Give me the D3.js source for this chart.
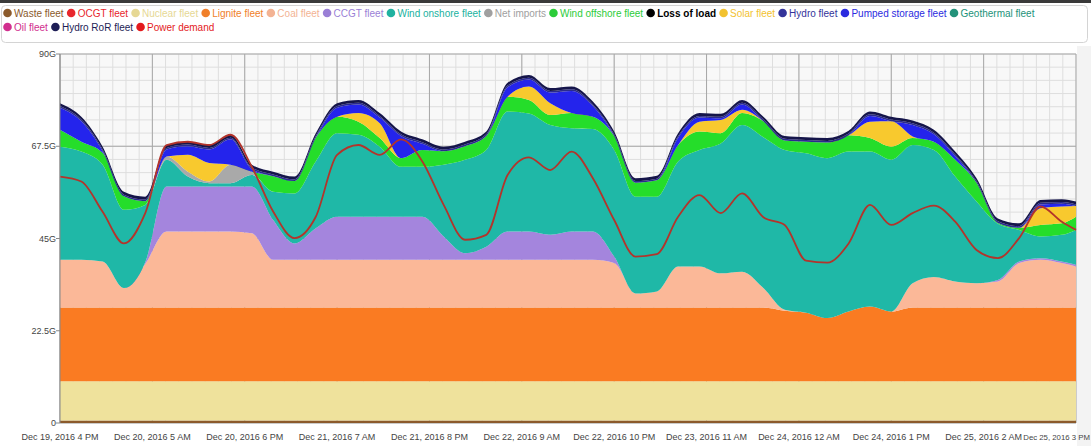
<!DOCTYPE html>
<html>
<head>
<meta charset="utf-8">
<script src="https://cdn.jsdelivr.net/npm/d3@7"></script>
<style>
  body { margin: 0; background: #fff; font-family: "Liberation Sans", Arial, sans-serif; }
</style>
</head>
<body>
<div id="chart"></div>
<script>
// hours since Dec 19, 2016 4 PM
const hours = [0,3,6,9,12,15,18,21,24,27,30,33,36,39,42,45,48,51,54,57,60,63,66,69,72,75,78,81,84,87,90,93,96,99,102,105,108,111,114,117,120,123,126,129,132,135,138,141,143];

// GW
const waste = [0.6,0.6,0.6,0.6,0.6,0.6,0.6,0.6,0.6,0.6,0.6,0.6,0.6,0.6,0.6,0.6,0.6,0.6,0.6,0.6,0.6,0.6,0.6,0.6,0.6,0.6,0.6,0.6,0.6,0.6,0.6,0.6,0.6,0.6,0.6,0.6,0.6,0.6,0.6,0.6,0.6,0.6,0.6,0.6,0.6,0.6,0.6,0.6,0.6];
const nuclear = [9.6,9.6,9.6,9.6,9.6,9.6,9.6,9.6,9.6,9.6,9.6,9.6,9.6,9.6,9.6,9.6,9.6,9.6,9.6,9.6,9.6,9.6,9.6,9.6,9.6,9.6,9.6,9.6,9.6,9.6,9.6,9.6,9.6,9.6,9.6,9.6,9.6,9.6,9.6,9.6,9.6,9.6,9.6,9.6,9.6,9.6,9.6,9.6,9.6];
const lignite = [18,18,18,18,18,18,18,18,18,18,18,18,18,18,18,18,18,18,18,18,18,18,18,18,18,18,18,18,18,18,18,18,18,18,17.2,16.7,15.4,17.0,18.2,17.0,18,18,18,18,18,18,18,18,18];
const coal = [11.6,11.6,11.2,4.7,10.6,18.5,18.5,18.5,18.5,18.1,11.6,11.6,11.6,11.6,11.6,11.6,11.6,11.6,11.6,11.6,11.6,11.6,11.6,11.6,11.6,11.6,10.8,3.4,3.9,10.0,10.0,8.3,8.7,4.7,0.2,0,0,0,0,0,5.9,7.4,6.3,5.9,6.3,10.8,11.6,10.8,10.0];
const ccgt = [0,0,0,0,0.4,11.0,11.0,11.0,11.0,11.4,9.7,4.0,7.7,10.5,10.5,10.5,10.5,10.5,5.7,1.6,3.2,6.9,6.9,6.1,6.9,6.9,1.6,0,0,0,0,0,0,0,0,0,0,0,0,0,0,0,0,0,0.4,0.4,0.4,0.4,0.4];
const windOnshore = [27.6,26.4,23.6,19.1,14.0,6.5,2.4,0.8,0.8,2.8,6.9,12.2,16.3,20.4,20.0,17.1,12.2,12.2,17.5,22.8,23.6,29.3,28.8,26.8,25.2,25.0,26.0,23.6,23.1,25.6,28.4,31.7,35.8,36.8,39.0,38.9,39.0,39.0,37.8,37.0,33.7,31.0,25.6,19.9,13.7,7.7,5.3,6.5,8.5];
const netImports = [0,0,0,0,0,0.8,1.2,0.4,4.5,0.8,0,0,0,0,0,0,0,0,0,0,0,0,0,0,0,0,0,0,0,0,0,0,0,0,0,0,0,0,0,0,0,0,0,0,0,0,0,0,0];
const windOffshore = [4.1,2.4,2.9,3.3,0.9,0,0,0,0,0,3.8,3.0,5.8,4.0,3.2,2.1,2.1,4.1,3.3,3.3,3.4,3.6,3.3,2.4,3.7,3.0,3.4,3.4,4.0,4.0,4.5,2.5,2.9,3.9,2.3,2.8,3.8,4.0,3.3,3.2,1.7,2.0,4.1,4.6,0.2,0.5,2.8,2.8,3.2];
const solar = [0,0,0,0,0,0,4.1,4.5,0,0,0,0,0,0,2.1,3.6,0,0,0,0,0,0,3.3,2.9,0,0,0,0,0,0,2.4,3.2,0.8,0,0,0,0,0,4.0,6.2,0.4,0,0,0,0,0,4.1,4.1,2.6];
const pumpedStorage = [5.4,5.0,0.4,0,0,1.7,2.1,3.3,6.2,0.6,0,0,0,2.2,2.1,1.4,5.4,1.5,0,0,0,2.3,1.7,2.6,5.4,2.6,0,0,0,1.8,1.0,0.4,1.3,0,0,0,0,0,1.4,0,2.8,1.8,0.9,0,0,0,0.9,0.7,0];
const hydro = [0.4,0.4,0.4,0.4,0.4,0.4,0.4,0.4,0.4,0.4,0.4,0.4,0.4,0.4,0.4,0.4,0.4,0.4,0.4,0.4,0.4,0.4,0.4,0.4,0.4,0.4,0.4,0.4,0.4,0.4,0.4,0.4,0.4,0.4,0.4,0.4,0.4,0.4,0.4,0.4,0.4,0.4,0.4,0.4,0.4,0.4,0.4,0.4,0.4];
const hydroRoR = [0.7,0.7,0.7,0.7,0.7,0.7,0.7,0.7,0.7,0.7,0.7,0.7,0.7,0.7,0.7,0.7,0.7,0.7,0.7,0.7,0.7,0.7,0.7,0.7,0.7,0.7,0.7,0.7,0.7,0.7,0.7,0.7,0.7,0.7,0.7,0.7,0.7,0.7,0.7,0.7,0.7,0.7,0.7,0.7,0.7,0.7,0.7,0.7,0.7];
const demand = [60.1,58.9,51.5,43.8,51.2,67.8,68.6,67.8,70.3,62.5,51.6,45.1,50.3,65.4,67.8,65.4,69.2,63.8,53.2,44.7,45.9,60.5,64.8,61.7,66.2,59.7,49.5,40.6,41.2,50.3,55.6,51.2,56.0,50.2,48.3,39.6,39.1,43.8,53.2,48.3,51.2,53.0,49.1,42.2,40.2,45.1,52.8,49.1,47.1];

const legendNames = ["Waste fleet","OCGT fleet","Nuclear fleet","Lignite fleet","Coal fleet","CCGT fleet","Wind onshore fleet","Net imports","Wind offshore fleet","Loss of load","Solar fleet","Hydro fleet","Pumped storage fleet","Geothermal fleet","Oil fleet","Hydro RoR fleet","Power demand"];
const legendColors = ["#8b5a2b","#e8262c","#e6d894","#f07f2a","#f3b393","#9a7fd6","#20b2a0","#a0a0a0","#2ccc3a","#000000","#f2c230","#33339a","#2b2be0","#23927a","#d12f8e","#1d1d55","#e31a1c"];

const yTicks = [0, 22.5, 45, 67.5, 90];
const yTickLabels = ["0","22.5G","45G","67.5G","90G"];
const xTickHours = [0,13,26,39,52,65,78,91,104,117,130,143];

const start = new Date(2016, 11, 19, 16);
const toDate = h => new Date(start.getTime() + h * 3600e3);

const W = 1091, H = 446;
const margin = {left: 60, right: 15, top: 54, bottom: 23};

const svg = d3.select('#chart').append('svg')
  .attr('width', W).attr('height', H)
  .style('display', 'block');

svg.append('rect').attr('width', W).attr('height', H).attr('fill', '#fff');
svg.append('rect').attr('width', W).attr('height', 3).attr('fill', '#3a3a3a');
svg.append('rect').attr('x', W - 14).attr('y', 46).attr('width', 14).attr('height', H - 46).attr('fill', '#f3f3f3');

const x = d3.scaleTime()
  .domain([toDate(0), toDate(143)])
  .range([margin.left, W - margin.right]);
const y = d3.scaleLinear()
  .domain([0, 90])
  .range([H - margin.bottom, margin.top]);

// plot background + grid
const plot = svg.append('g');
plot.append('rect')
  .attr('x', x.range()[0]).attr('y', y.range()[1])
  .attr('width', x.range()[1] - x.range()[0])
  .attr('height', y.range()[0] - y.range()[1])
  .attr('fill', '#f8f8f8');

const minorY = d3.range(0, 90.001, 22.5 / 7);
const minorX = d3.range(0, 143.001, 13 / 7);
plot.selectAll('.gy').data(minorY).enter().append('line')
  .attr('x1', x.range()[0]).attr('x2', x.range()[1])
  .attr('y1', d => y(d)).attr('y2', d => y(d))
  .attr('stroke', '#dedede').attr('stroke-width', 1);
plot.selectAll('.gx').data(minorX).enter().append('line')
  .attr('y1', y.range()[0]).attr('y2', y.range()[1])
  .attr('x1', d => x(toDate(d))).attr('x2', d => x(toDate(d)))
  .attr('stroke', '#dedede').attr('stroke-width', 1);
plot.selectAll('.gY').data(yTicks).enter().append('line')
  .attr('x1', x.range()[0]).attr('x2', x.range()[1])
  .attr('y1', d => y(d)).attr('y2', d => y(d))
  .attr('stroke', '#a8a8a8').attr('stroke-width', 1);
plot.selectAll('.gX').data(xTickHours).enter().append('line')
  .attr('y1', y.range()[0]).attr('y2', y.range()[1])
  .attr('x1', d => x(toDate(d))).attr('x2', d => x(toDate(d)))
  .attr('stroke', '#a8a8a8').attr('stroke-width', 1);

// stacked areas
const series = {
  waste, nuclear, lignite, coal, ccgt, windOnshore, netImports,
  windOffshore, solar, pumpedStorage, hydro, hydroRoR
};
const fills = {
  waste: '#8b5a2b', nuclear: '#efe29c', lignite: '#fa7b22', coal: '#fbb898',
  ccgt: '#a485dd', windOnshore: '#1fb8a7', netImports: '#a9a9a9',
  windOffshore: '#25dd2a', solar: '#f8c92e', pumpedStorage: '#2424ec',
  hydro: '#2a2a8e', hydroRoR: '#15154a'
};
const keys = Object.keys(series);
const table = hours.map((h, i) => {
  const row = {date: toDate(h)};
  keys.forEach(k => row[k] = series[k][i]);
  return row;
});

const stacked = d3.stack().keys(keys)(table);
const area = d3.area()
  .x(d => x(d.data.date))
  .y0(d => y(d[0]))
  .y1(d => y(d[1]))
  .curve(d3.curveMonotoneX);

svg.append('g').selectAll('path').data(stacked).enter().append('path')
  .attr('d', area)
  .attr('fill', d => fills[d.key]);

// power demand line
const line = d3.line()
  .x((d, i) => x(toDate(hours[i])))
  .y(d => y(d))
  .curve(d3.curveMonotoneX);
svg.append('path')
  .datum(demand)
  .attr('d', line)
  .attr('fill', 'none')
  .attr('stroke', '#b3342b')
  .attr('stroke-width', 1.8);

// y axis
const yAxis = svg.append('g');
yAxis.append('line')
  .attr('x1', x.range()[0]).attr('x2', x.range()[0])
  .attr('y1', y.range()[0]).attr('y2', y.range()[1])
  .attr('stroke', '#888');
yAxis.selectAll('.tk').data(yTicks).enter().append('line')
  .attr('x1', x.range()[0] - 4).attr('x2', x.range()[0])
  .attr('y1', d => y(d)).attr('y2', d => y(d))
  .attr('stroke', '#888');
yAxis.selectAll('text').data(yTicks).enter().append('text')
  .attr('x', x.range()[0] - 4)
  .attr('y', d => y(d) + 3)
  .attr('text-anchor', 'end')
  .attr('font-size', 9)
  .attr('fill', '#444')
  .text((d, i) => yTickLabels[i]);

// x axis labels (last one kept inside the frame, a bit smaller)
const fmt = d3.timeFormat('%b %-d, %Y %-I %p');
const last = xTickHours[xTickHours.length - 1];
svg.append('g').selectAll('text').data(xTickHours).enter().append('text')
  .attr('x', d => d === last ? W - 1 : x(toDate(d)))
  .attr('y', 440)
  .attr('text-anchor', d => d === last ? 'end' : 'middle')
  .attr('font-size', d => d === last ? 7.8 : 9)
  .attr('fill', '#444')
  .text(d => fmt(toDate(d)));

// legend
const lg = svg.append('g');
lg.append('rect')
  .attr('x', 1.5).attr('y', 5.5).attr('width', 1086).attr('height', 37)
  .attr('rx', 4).attr('fill', '#fff').attr('stroke', '#d4d4d4');
let lx = 3, ly = 13;
legendNames.forEach((name, i) => {
  const item = lg.append('g');
  const t = item.append('text')
    .attr('font-size', 10)
    .attr('fill', legendColors[i])
    .attr('font-weight', name === 'Loss of load' ? 'bold' : null)
    .text(name);
  const w = t.node().getComputedTextLength();
  if (lx + 10 + w > 1080) { lx = 3; ly += 14; }
  item.append('circle')
    .attr('cx', lx + 4.5).attr('cy', ly)
    .attr('r', 4.3)
    .attr('fill', legendColors[i]);
  t.attr('x', lx + 11).attr('y', ly + 3.5);
  lx += 11 + w + 3;
});
</script>
</body>
</html>
